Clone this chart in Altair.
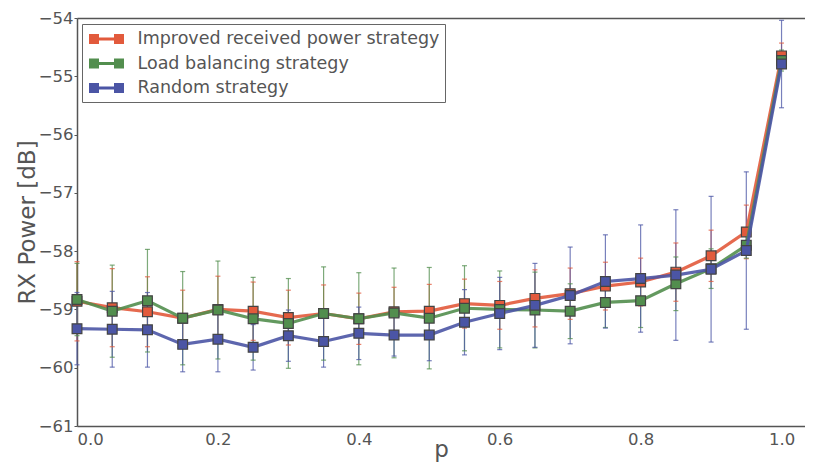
import altair as alt
import pandas as pd

p = [0.0, 0.05, 0.1, 0.15, 0.2, 0.25, 0.3, 0.35, 0.4, 0.45, 0.5,
     0.55, 0.6, 0.65, 0.7, 0.75, 0.8, 0.85, 0.9, 0.95, 1.0]

series_names = ["Improved received power strategy", "Load balancing strategy", "Random strategy"]
series_colors = ["#E25A3C", "#528E4E", "#4B55A5"]

red_mean = [-58.86, -58.97, -59.04, -59.15, -59.00, -59.03, -59.14, -59.07, -59.16, -59.04, -59.03,
            -58.90, -58.93, -58.81, -58.73, -58.60, -58.53, -58.36, -58.08, -57.67, -54.65]
red_err = [0.68, 0.67, 0.60, 0.48, 0.57, 0.50, 0.47, 0.49, 0.44, 0.42, 0.46,
           0.42, 0.41, 0.49, 0.44, 0.41, 0.41, 0.50, 0.44, 0.46, 0.22]
green_mean = [-58.83, -59.03, -58.85, -59.15, -59.01, -59.16, -59.24, -59.07, -59.16, -59.06, -59.15,
              -58.98, -59.00, -59.01, -59.03, -58.88, -58.85, -58.56, -58.30, -57.90, -54.73]
green_err = [0.62, 0.79, 0.88, 0.80, 0.84, 0.71, 0.77, 0.80, 0.79, 0.77, 0.87,
             0.73, 0.66, 0.65, 0.47, 0.43, 0.46, 0.46, 0.34, 0.22, 0.18]
blue_mean = [-59.33, -59.34, -59.35, -59.60, -59.51, -59.65, -59.45, -59.55, -59.41, -59.44, -59.44,
             -59.22, -59.07, -58.93, -58.76, -58.52, -58.47, -58.41, -58.31, -57.99, -54.79]
blue_err = [0.62, 0.65, 0.64, 0.47, 0.56, 0.39, 0.44, 0.44, 0.45, 0.36, 0.44,
            0.56, 0.62, 0.72, 0.83, 0.80, 0.92, 1.12, 1.25, 1.35, 0.75]

x_ticks = [0.0, 0.2, 0.4, 0.6, 0.8, 1.0]
y_ticks = [-61, -60, -59, -58, -57, -56, -55, -54]

rows = []
for name, means, errs in zip(series_names, [red_mean, green_mean, blue_mean], [red_err, green_err, blue_err]):
    for x, m, e in zip(p, means, errs):
        rows.append({"p": x, "series": name, "mean": m, "lo": m - e, "hi": m + e})
df = pd.DataFrame(rows)

FONT = "DejaVu Sans"
GREY = "#555555"

color_scale = alt.Scale(domain=series_names, range=series_colors)
xs = alt.Scale(domain=[0, 1.0333], nice=False, zero=False)
ys = alt.Scale(domain=[-61, -54], nice=False, zero=False)

x_bottom = alt.X("p:Q", scale=xs,
                 axis=alt.Axis(values=x_ticks, format=".1f", title="p", labelFontSize=16.5,
                               titleFontSize=23, titleFontWeight="normal", labelColor=GREY,
                               titleColor=GREY, domainColor=GREY, domainWidth=1.5, tickColor=GREY,
                               tickSize=0, grid=False, labelPadding=5,
                               titleY=30, titleBaseline="alphabetic",
                               labelFont=FONT, titleFont=FONT))
x_top = alt.X("p:Q", scale=xs,
              axis=alt.Axis(orient="top", values=x_ticks, labels=False, ticks=False, title=None,
                            domainColor=GREY, domainWidth=1.5, grid=False))
x_none = alt.X("p:Q", scale=xs, axis=None)
y_left = alt.Y("mean:Q", scale=ys,
               axis=alt.Axis(values=y_ticks, format="d", title="RX Power [dB]", labelFontSize=16.5,
                             titleFontSize=23, titleFontWeight="normal", labelColor=GREY,
                             titleColor=GREY, domainColor=GREY, domainWidth=1.5, tickColor=GREY,
                             tickSize=3, grid=False, labelPadding=1,
                             titleX=-50, titleBaseline="middle",
                             labelFont=FONT, titleFont=FONT))

base = alt.Chart(df)
no_legend = alt.Color("series:N", scale=color_scale, legend=None)

err = base.mark_rule(strokeWidth=1.2, opacity=0.75).encode(
    x=x_bottom, y=alt.Y("lo:Q", scale=ys), y2="hi:Q", color=no_legend, detail="series:N",
)
cap_lo = base.mark_tick(orient="horizontal", size=5, thickness=1.2, opacity=0.75).encode(
    x=x_top, y=alt.Y("lo:Q", scale=ys), color=no_legend,
)
cap_hi = base.mark_tick(orient="horizontal", size=5, thickness=1.2, opacity=0.75).encode(
    x=x_none, y=alt.Y("hi:Q", scale=ys), color=no_legend,
)

legend_path = ("M-1.75,-0.5H-0.75V0.5H-1.75Z"
               "M-0.75,-0.15H0.75V0.15H-0.75Z"
               "M0.75,-0.5H1.75V0.5H0.75Z")

layers = []
for i, name in enumerate(series_names):
    sub = base.transform_filter(alt.datum.series == name)
    line = sub.mark_line(strokeWidth=3.2, opacity=0.9).encode(
        x=x_none,
        y=y_left if i == 0 else alt.Y("mean:Q", scale=ys),
        color=no_legend,
    )
    if i == 0:
        color = alt.Color("series:N", scale=color_scale, sort=series_names,
                          legend=alt.Legend(title=None, orient="none", legendX=5, legendY=6,
                                            symbolType=legend_path, symbolSize=400,
                                            symbolOffset=9.5,
                                            symbolStrokeWidth=0, symbolOpacity=1,
                                            labelFontSize=17.5, labelFont=FONT, labelColor=GREY,
                                            labelOffset=21, padding=5, rowPadding=5.5,
                                            strokeColor="#666666", fillColor="white",
                                            labelLimit=500))
    else:
        color = no_legend
    pts = sub.mark_point(shape="square", filled=True, size=95, stroke="#444444",
                         strokeWidth=1.2, opacity=1).encode(
        x=x_none, y=alt.Y("mean:Q", scale=ys), color=color,
    )
    layers += [line, pts]

chart = alt.layer(err, cap_lo, cap_hi, *layers).resolve_legend(
    color="independent").resolve_axis(x="independent").properties(
    width=728, height=408,
    autosize=alt.AutoSizeParams(type="none"),
    padding={"left": 69, "top": 10, "right": 0, "bottom": 37},
    background="white",
).configure_view(stroke=None)

chart.save("out.html", embed_options={"renderer": "svg", "actions": False})
